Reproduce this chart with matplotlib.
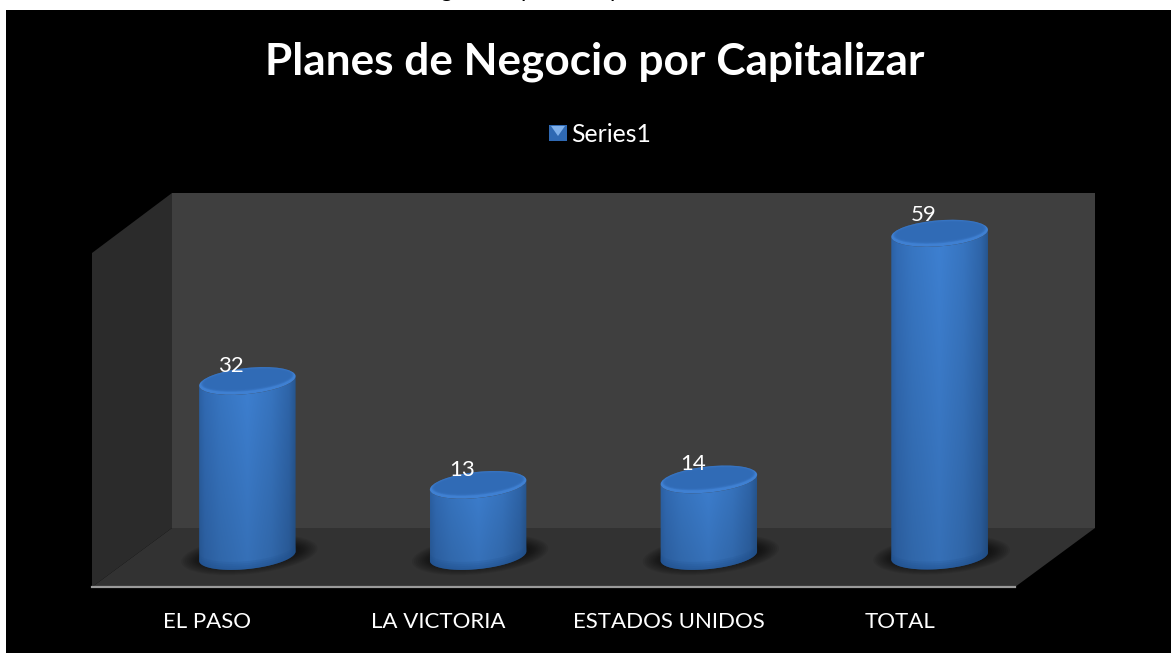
import numpy as np
import matplotlib
matplotlib.use("Agg")
import matplotlib.pyplot as plt
from matplotlib.patches import Polygon, Ellipse, PathPatch, Rectangle
from matplotlib.path import Path
from matplotlib.transforms import Affine2D, IdentityTransform

categories = ["EL PASO", "LA VICTORIA", "ESTADOS UNIDOS", "TOTAL"]
values = [32, 13, 14, 59]
series_name = "Series1"
title = "Planes de Negocio por Capitalizar"

W, H = 1171, 653
plt.rcParams["font.family"] = ["Lato", "DejaVu Sans"]
fig = plt.figure(figsize=(W / 100, H / 100), dpi=100, facecolor="white")


def px(x, y):
    # image pixels (y down) to display coords
    return (x, H - y)


def poly(pts, color, z=1):
    fig.add_artist(Polygon([px(*p) for p in pts], closed=True, fc=color, ec="none",
                           transform=IdentityTransform(), zorder=z))


# black panel and the 3D box
poly([(6, 10), (W, 10), (W, H), (6, H)], "black", 0)
poly([(172, 193), (1095, 193), (1095, 528), (172, 528)], "#3f3f3f")
poly([(92, 253), (172, 193), (172, 528), (92, 587)], "#2b2b2b")
poly([(172, 528), (1095, 528), (1015, 587), (92, 587)], "#323232")

# tails of the line of text cut off above the panel
for ch, x in [("g", 446), ("p", 527), ("p", 616)]:
    fig.text(x / W, 1 + 3 / H, ch, color="black", fontsize=16, ha="center", va="baseline")

# front plane of the box is the real axes, bars are pushed back by the depth offset
ax = fig.add_axes([92 / W, (H - 587) / H, 923 / W, 334 / H], facecolor="none", zorder=2)
ax.set_xticks(range(len(categories)))
ax.set_xticklabels(categories, color="white", fontsize=16)
ax.tick_params(axis="x", length=0, pad=18)
ax.set_yticks([])
for s in ["top", "left", "right"]:
    ax.spines[s].set_visible(False)
ax.spines["bottom"].set_color("#9a9a9a")
ax.spines["bottom"].set_linewidth(1.6)
ax.set_xlim(-0.5, 3.5)
ax.set_ylim(0, 334 / 5.47)

depth = Affine2D().translate(40, 31)
to_px = ax.transData + depth

# horizontal shading across the cylinder
stops_x = [0, 0.06, 0.22, 0.5, 0.75, 0.93, 1]
stops_c = np.array([[0x2c, 0x62, 0xa6], [0x32, 0x6c, 0xb6], [0x38, 0x77, 0xc4], [0x3e, 0x81, 0xd3],
                    [0x38, 0x76, 0xc2], [0x2f, 0x66, 0xab], [0x27, 0x57, 0x91]]) / 255
xs = np.linspace(0, 1, 200)
row = np.stack([np.interp(xs, stops_x, stops_c[:, k]) for k in range(3)], axis=1)

rx, ry = 48.5, 13


def ell(cx, cy, tilt):
    # half ellipse points, lower side from left to right
    t = np.linspace(np.pi, 2 * np.pi, 60)
    a = np.radians(tilt)
    ex, ey = rx * np.cos(t), ry * np.sin(t)
    return np.c_[cx + ex * np.cos(a) - ey * np.sin(a), cy + ex * np.sin(a) + ey * np.cos(a)]


def oval(xy, w, h, tilt, color, z, alpha=1.0):
    ax.add_artist(Ellipse(xy, w, h, angle=tilt, fc=color, ec="none", alpha=alpha, clip_on=False,
                          transform=IdentityTransform(), zorder=z))


for i, v in enumerate(values):
    base = to_px.transform((i, 0))
    top = to_px.transform((i, v))
    tilt = 6 if i < 3 else 4.5

    # soft shadow on the floor
    for k in range(10):
        oval(base + (2, 1), 2 * rx + 40 - 4 * k, 2 * ry + 12 - 2 * k, tilt, "black", 1, 0.07)

    low = ell(base[0], base[1], tilt)
    up = ell(top[0], top[1], tilt)
    outline = np.vstack([low, up[::-1]])
    body = Path(np.vstack([outline, outline[:1]]), closed=True)
    clip = PathPatch(body, transform=IdentityTransform(), fc="none", ec="none")
    fig.add_artist(clip)

    # body gets a little darker towards the floor
    fade = np.linspace(0.86, 1.0, 60)[:, None, None]
    im = ax.imshow(row[None, :, :] * fade, aspect="auto", zorder=4, interpolation="bilinear",
                   origin="lower", transform=IdentityTransform(),
                   extent=(base[0] - rx, base[0] + rx, base[1] - 20, top[1] + 20))
    im.set_clip_box(fig.bbox)
    im.set_clip_path(clip)

    # darker foot of the cylinder, a few layers so it fades
    for k in range(4):
        foot = np.vstack([low, (low + [0, 2 + 2 * k])[::-1]])
        ax.add_artist(Polygon(foot, closed=True, fc="#1f4f8c", ec="none", alpha=0.16, clip_on=False,
                              transform=IdentityTransform(), zorder=5))

    # cap: light rim then darker inner part fading out
    oval(top, 2 * rx, 2 * ry, tilt, "#3f80d2", 6)
    for k in range(4):
        oval(top + (0, 1.5), 2 * rx - 4 - 2 * k, 2 * ry - 3 - 1.5 * k, tilt, "#2f69b3", 7, 0.4)

    lab = top + (-16, 5 + 3 * (i == 3))
    ax.text(lab[0], lab[1], str(v), color="white", fontsize=16, ha="center", va="bottom",
            transform=IdentityTransform(), zorder=8, clip_on=False)

ax.set_xlim(-0.5, 3.5)
ax.set_ylim(0, 334 / 5.47)

# title and legend
fig.text(595 / W, 1 - 62 / H, title, color="white", fontsize=31.8, fontweight="bold",
         ha="center", va="center", zorder=9)
lx, ly = px(549, 141)
fig.add_artist(Rectangle((lx, ly), 18, 16, fc="#2f69b3", ec="none",
                         transform=IdentityTransform(), zorder=9))
fig.add_artist(Polygon([(lx + 2, ly + 15), (lx + 16, ly + 15), (lx + 9, ly + 5)], closed=True,
                       fc="#7fb0ea", ec="none", transform=IdentityTransform(), zorder=10))
fig.text(571 / W, 1 - 134 / H, series_name, color="white", fontsize=17.8, ha="left", va="center", zorder=9)

fig.savefig("out.png", dpi=100, facecolor="white")
